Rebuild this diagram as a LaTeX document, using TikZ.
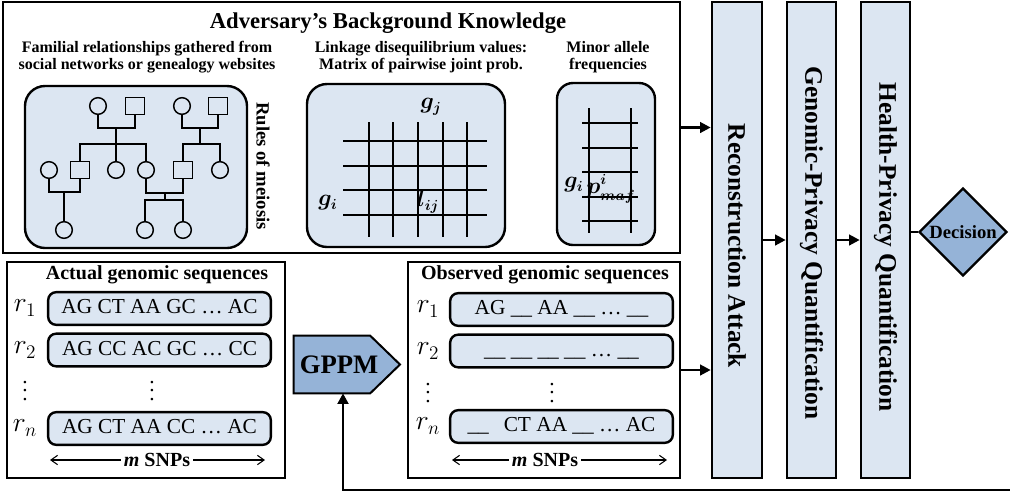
\documentclass[tikz,border=0pt]{standalone}
\usepackage{fontspec}
\usepackage{amsmath}
\usepackage{graphicx}
\setmainfont{Liberation Serif}
\usetikzlibrary{shapes.geometric,arrows.meta,fit}
\definecolor{lightfill}{HTML}{DCE6F2}
\definecolor{midfill}{HTML}{95B3D7}
\tikzset{
  outerbox/.style={draw, line width=2pt, inner sep=0pt},
  panel/.style={draw, line width=1.8pt, fill=lightfill, rounded corners=15pt, inner sep=0pt},
  rowbox/.style={draw, line width=1.8pt, fill=lightfill, rounded corners=6pt, minimum width=167pt, minimum height=24.5pt, inner sep=0pt, text height=11pt, text depth=3pt, font=\fontsize{16}{18}\selectfont},
  stagebox/.style={draw, line width=2pt, fill=lightfill, inner sep=0pt},
  stagetext/.style={rotate=-90, font=\fontsize{19}{22}\selectfont\bfseries},
  heading/.style={font=\fontsize{17}{20}\selectfont\bfseries},
  sublabel/.style={font=\fontsize{12}{13}\selectfont\bfseries, align=center},
  seqtitle/.style={font=\fontsize{15}{17}\selectfont\bfseries},
  rlabel/.style={font=\fontsize{20}{22}\selectfont, inner sep=0pt},
  dotslabel/.style={inner sep=0pt},
  mathlabel/.style={font=\fontsize{16}{18}\selectfont, inner sep=0pt},
  pedline/.style={line width=1.5pt},
  pedc/.style={circle, draw, line width=1.1pt, minimum size=12.5pt, inner sep=0pt, fill=lightfill},
  peds/.style={rectangle, draw, line width=1.1pt, minimum width=14pt, minimum height=13pt, inner sep=0pt, fill=lightfill},
  gridline/.style={line width=2.2pt},
  arr/.style={line width=1.8pt, -{Triangle[length=8pt,width=8pt]}},
  snparr/.style={line width=0.8pt, {Straight Barb[length=5pt,width=7pt]}-{Straight Barb[length=5pt,width=7pt]}},
}
\newcommand{\bigvdots}{\scalebox{1.6}{\normalfont\vbox{\baselineskip4pt\lineskiplimit0pt\hbox{.}\hbox{.}\hbox{.}}}}
\begin{document}
\begin{tikzpicture}[x=0.75pt,y=-0.75pt]
\useasboundingbox (0,0) rectangle (1010,494);

% ---------- background knowledge box ----------
\node[outerbox, fit={(3,2) (680,253)}] (adv) {};
\node[heading] (title) at (388,23) {Adversary’s Background Knowledge};
\node[sublabel] (fam) at (147,57) {Familial relationships gathered from\\social networks or genealogy websites};
\node[sublabel] (ld) at (421,57) {Linkage disequilibrium values:\\Matrix of pairwise joint prob.};
\node[sublabel] (maf) at (608,57) {Minor allele\\frequencies};

% pedigree panel
\node[panel, fit={(25,86) (247,248)}] (pedpanel) {};
\node[rotate=-90, font=\fontsize{14}{16}\selectfont\bfseries] (meiosis) at (263,166) {Rules of meiosis};
\node[pedc] (c1) at (98,106) {};
\node[peds] (s1) at (135,106) {};
\node[pedc] (c2) at (182,106) {};
\node[peds] (s2) at (218,106) {};
\node[pedc] (c3) at (49,170) {};
\node[peds] (s3) at (80,170) {};
\node[pedc] (c4) at (116,170) {};
\node[pedc] (c5) at (146,170) {};
\node[peds] (s4) at (183,170) {};
\node[pedc] (c6) at (220,170) {};
\node[pedc] (c7) at (64,230) {};
\node[pedc] (c8) at (145,230) {};
\node[pedc] (c9) at (183,230) {};
\coordinate (m1) at (116,128);
\coordinate (k1) at (116,144);
\coordinate (m2) at (200,128);
\coordinate (k2) at (200,144);
\coordinate (m3) at (64,192);
\coordinate (m4) at (165,193);
\coordinate (k4) at (165,200);
\draw[pedline] (c1.south) |- (m1) -| (s1.south);
\draw[pedline] (m1) -- (c4.north);
\draw[pedline] (s3.north) |- (k1) -| (c5.north);
\draw[pedline] (c2.south) |- (m2) -| (s2.south);
\draw[pedline] (m2) -- (k2);
\draw[pedline] (s4.north) |- (k2) -| (c6.north);
\draw[pedline] (c3.south) |- (m3) -| (s3.south);
\draw[pedline] (m3) -- (c7.north);
\draw[pedline] (c5.south) |- (m4) -| (s4.south);
\draw[pedline] (m4) -- (k4);
\draw[pedline] (c8.north) |- (k4) -| (c9.north);

% LD matrix panel
\node[panel, fit={(307,84) (505,247)}] (ldpanel) {};
\foreach \x in {369,393,418,443,467} \draw[gridline] (\x,122) -- (\x,237);
\foreach \y in {141,166,190,215} \draw[gridline] (343,\y) -- (487,\y);
\node[mathlabel] (gj) at (431,107) {$\boldsymbol{g_j}$};
\node[mathlabel] (gi) at (328,203) {$\boldsymbol{g_i}$};
\node[mathlabel] (lij) at (428,202) {$\boldsymbol{l_{ij}}$};

% MAF panel
\node[panel, rounded corners=12pt, fit={(557,83) (655,245)}] (mafpanel) {};
\foreach \x in {589,631} \draw[gridline] (\x,108) -- (\x,233);
\foreach \y in {123,148,172,197,221} \draw[gridline] (582,\y) -- (638,\y);
\node[mathlabel] (gi2) at (574,185) {$\boldsymbol{g_i}$};
\node[mathlabel] (pmaf) at (611,189) {$\boldsymbol{p^{i}_{maf}}$};

% ---------- actual sequences ----------
\node[outerbox, fit={(7,262) (285,478)}] (act) {};
\node[seqtitle] (acttitle) at (157,275) {Actual genomic sequences};
\node[rowbox] (a1) at (159.5,308.5) {AG CT AA GC … AC};
\node[rowbox] (a2) at (159.5,350) {AG CC AC GC … CC};
\node[rowbox] (an) at (159.5,428.5) {AG CT AA CC … AC};
\node[rlabel] (ar1) at (25,308) {$r_1$};
\node[rlabel] (ar2) at (25,350) {$r_2$};
\node[rlabel] (arn) at (25,428) {$r_n$};
\node[dotslabel] (ad1) at (25,391) {\bigvdots};
\node[dotslabel] (ad2) at (152,391) {\bigvdots};
\coordinate (al) at (50,460);
\coordinate (ar) at (265,460);
\draw[snparr] (al) -- (ar);
\node[fill=white, inner sep=2pt, font=\fontsize{15}{17}\selectfont\bfseries] (asnp) at (157,460) {\textit{m} SNPs};

% ---------- GPPM ----------
\node[inner sep=0pt, minimum width=57pt, minimum height=42.75pt] (gppm) at (332,364.5) {};
\coordinate (gppmtip) at (400,364.5);
\draw[line width=1.5pt, fill=midfill] (gppm.north west) -- (gppm.north east) -- (gppmtip) -- (gppm.south east) -- (gppm.south west) -- cycle;
\node[font=\fontsize{20}{22}\selectfont\bfseries] (gppmlbl) at (339,364.5) {GPPM};

% ---------- observed sequences ----------
\node[outerbox, fit={(408,262) (680,478)}] (obs) {};
\node[seqtitle] (obstitle) at (545,275) {Observed genomic sequences};
\node[rowbox] (o1) at (561.5,309.5) {AG \_\_ AA \_\_ … \_\_};
\node[rowbox] (o2) at (561.5,351) {\_\_ \_\_ \_\_ \_\_ … \_\_};
\node[rowbox] (on) at (561.5,426.5) {\_\_\hspace{0.7em}CT AA \_\_ … AC};
\node[rlabel] (or1) at (428,309) {$r_1$};
\node[rlabel] (or2) at (428,351) {$r_2$};
\node[rlabel] (orn) at (428,426) {$r_n$};
\node[dotslabel] (od1) at (428,393) {\bigvdots};
\node[dotslabel] (od2) at (552,393) {\bigvdots};
\coordinate (bl) at (452,460);
\coordinate (br) at (667,460);
\draw[snparr] (bl) -- (br);
\node[fill=white, inner sep=2pt, font=\fontsize{15}{17}\selectfont\bfseries] (bsnp) at (545,460) {\textit{m} SNPs};

% ---------- stages ----------
\node[stagebox, fit={(712,2) (762,478)}] (rec) {};
\node[stagetext] (rectxt) at (737,246) {Reconstruction Attack};
\node[stagebox, fit={(787,2) (836,478)}] (gen) {};
\node[stagetext] (gentxt) at (811.5,243) {Genomic-Privacy Quantification};
\node[stagebox, fit={(861,2) (910,478)}] (hea) {};
\node[stagetext] (heatxt) at (885.5,247) {Health-Privacy Quantification};
\node[diamond, aspect=1, draw, line width=1.8pt, fill=midfill, minimum width=66pt, minimum height=66pt, inner sep=0pt, font=\fontsize{14}{16}\selectfont\bfseries] (dec) at (963,232) {Decision};

% ---------- connectors ----------
\draw[arr] (adv.east) -- (adv.east -| rec.west);
\draw[arr] (obs.east) -- (obs.east -| rec.west);
\draw[arr] (rec.east) -- (rec.east -| gen.west);
\draw[arr] (gen.east) -- (gen.east -| hea.west);
\draw[line width=1.8pt] (hea.east |- dec.west) -- (dec.west);
\coordinate (fb) at (1010,490);
\coordinate (fbc) at (343,490);
\draw[arr, line width=2pt] (fb) -- (fbc) -- (fbc |- gppm.south);
\end{tikzpicture}
\end{document}
